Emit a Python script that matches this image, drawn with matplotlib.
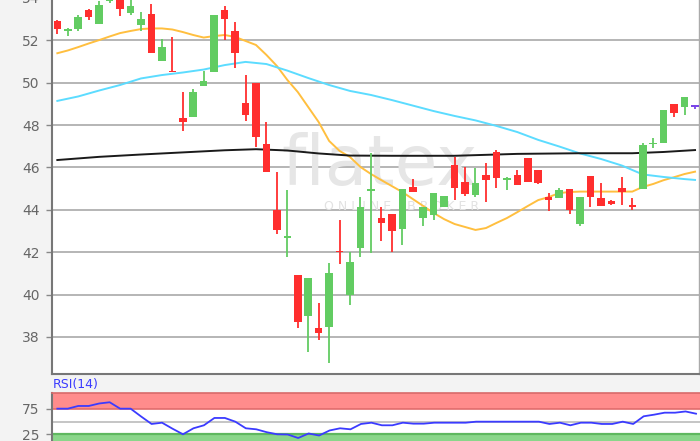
import matplotlib
matplotlib.use("Agg")
import matplotlib.pyplot as plt

# ---- data ----
opens = [52.92, 52.42, 52.52, 53.43, 52.77, 53.85, 54.25, 53.27, 52.71, 53.24,
         51.00, 50.57, 48.33, 48.37, 49.84, 50.50, 53.43, 52.45, 49.03, 49.97,
         47.11, 44.00, 42.65, 40.94, 38.99, 38.42, 38.46, 42.05, 40.00, 42.19,
         44.90, 43.62, 43.81, 43.11, 45.09, 43.60, 43.77, 44.15, 46.13, 45.33,
         44.69, 45.64, 46.74, 45.40, 45.64, 46.43, 45.88, 44.62, 44.54, 44.97,
         43.32, 45.60, 44.54, 44.42, 45.02, 44.23, 44.97, 47.10, 47.14, 49.00,
         48.87, 48.87]
highs = [52.95, 52.56, 53.18, 53.46, 53.84, 54.50, 54.50, 53.95, 53.33, 53.71,
         52.08, 52.14, 49.56, 49.69, 50.54, 53.18, 53.62, 52.86, 50.35, 49.97,
         48.15, 45.79, 44.94, 40.94, 40.76, 39.58, 41.48, 43.52, 42.01, 44.59,
         46.70, 44.12, 43.81, 44.97, 45.47, 44.12, 44.78, 44.66, 46.51, 46.04,
         45.96, 46.21, 46.82, 45.55, 45.88, 46.45, 45.88, 44.81, 45.04, 45.00,
         44.62, 45.60, 45.25, 44.45, 45.56, 44.54, 47.17, 47.38, 48.71, 49.00,
         49.31, 48.95]
lows = [52.30, 52.20, 52.45, 52.95, 52.77, 53.75, 53.14, 53.20, 52.42, 51.39,
        51.00, 50.50, 47.74, 48.37, 49.84, 50.50, 52.01, 50.69, 48.18, 46.98,
        45.79, 42.86, 41.79, 38.42, 37.27, 37.86, 36.79, 41.45, 39.50, 41.76,
        41.98, 42.55, 42.03, 42.33, 44.84, 43.24, 43.52, 44.15, 44.46, 44.65,
        44.59, 44.38, 45.02, 44.93, 45.17, 45.33, 45.20, 43.96, 44.54, 43.80,
        43.25, 44.15, 44.18, 44.23, 44.23, 43.99, 44.97, 46.90, 47.14, 48.37,
        48.48, 48.75]
closes = [52.52, 52.52, 53.11, 53.08, 53.68, 54.30, 53.46, 53.62, 52.99, 51.39,
          51.70, 50.50, 48.14, 49.56, 50.07, 53.18, 53.02, 51.39, 48.49, 47.42,
          45.79, 43.05, 42.75, 38.70, 40.76, 38.21, 41.01, 42.00, 41.54, 44.12,
          44.95, 43.37, 42.99, 44.97, 44.84, 44.12, 44.78, 44.66, 45.02, 44.75,
          45.25, 45.41, 45.49, 45.52, 45.17, 45.33, 45.25, 44.46, 44.94, 43.99,
          44.62, 44.62, 44.18, 44.27, 44.86, 44.12, 47.06, 47.16, 48.71, 48.56,
          49.31, 48.87]

ma_short = [51.39, 51.52, 51.68, 51.85, 52.01, 52.18, 52.34, 52.44, 52.53, 52.56,
            52.56, 52.51, 52.39, 52.25, 52.13, 52.20, 52.25, 52.16, 51.97, 51.78,
            51.31, 50.79, 50.13, 49.56, 48.85, 48.14, 47.25, 46.78, 46.49, 46.02,
            45.69, 45.40, 45.12, 44.84, 44.51, 44.18, 43.85, 43.56, 43.33, 43.19,
            43.05, 43.14, 43.38, 43.61, 43.89, 44.18, 44.46, 44.60, 44.79, 44.84,
            44.86, 44.86, 44.86, 44.86, 44.86, 44.86, 45.08, 45.22, 45.40, 45.54,
            45.69, 45.80]

ma_mid_idx = [0, 2, 4, 6, 8, 10, 12, 14, 16, 18, 20, 22, 24, 26, 28, 30, 32, 34,
              36, 38, 40, 42, 44, 46, 48, 50, 52, 54, 56, 58, 60, 61]
ma_mid = [49.14, 49.35, 49.63, 49.89, 50.20, 50.36, 50.48, 50.62, 50.83, 50.98,
          50.88, 50.57, 50.22, 49.89, 49.61, 49.42, 49.18, 48.92, 48.66, 48.43,
          48.22, 47.96, 47.67, 47.30, 46.99, 46.66, 46.40, 46.09, 45.67, 45.55,
          45.45, 45.41]

ma_long_idx = [0, 4, 8, 12, 16, 19, 22, 25, 28, 32, 38, 44, 50, 55, 58, 61]
ma_long = [46.35, 46.50, 46.61, 46.71, 46.81, 46.86, 46.80, 46.66, 46.56, 46.55,
           46.55, 46.64, 46.67, 46.67, 46.73, 46.82]

rsi = [75.6, 75.6, 80.9, 80.9, 85.8, 88.2, 75.6, 75.6, 60.2, 45.5,
       48.0, 36.2, 25.2, 37.0, 42.9, 57.3, 57.3, 50.0, 37.0, 35.0,
       29.3, 25.2, 24.8, 17.9, 26.8, 22.8, 32.7, 37.0, 35.0, 45.5,
       48.0, 42.9, 42.9, 48.0, 46.1, 46.1, 48.0, 48.0, 48.0, 48.0,
       50.0, 50.0, 50.0, 50.0, 50.0, 50.0, 50.0, 45.5, 48.0, 42.9,
       48.0, 48.0, 45.5, 45.5, 50.0, 45.5, 60.6, 63.8, 67.7, 67.7,
       70.1, 65.7]

price_ticks = [38, 40, 42, 44, 46, 48, 50, 52, 54]
rsi_ticks = [25, 75]

# ---- styling ----
RED = "#ff2e2e"
GREEN = "#62cc62"
FLAT = "#7a44e8"
GRID = "#a9a9a9"
LABEL = "#666666"

W, H = 700, 441
fig = plt.figure(figsize=(W / 100, H / 100), dpi=100, facecolor="#f3f3f3")

# main price axes (top slightly above the figure so the 54 label is cut)
top_px = -2.08
bot_px = 374
ax = fig.add_axes([52 / W, 1 - bot_px / H, (699 - 52) / W, (bot_px - top_px) / H])
ax.set_facecolor("white")
ax.set_ylim(36.252, 54.0)
ax.set_xlim(-0.51, 61.38)
ax.set_yticks(price_ticks)
ax.set_xticks([])
ax.yaxis.grid(True, color=GRID, lw=1.2)
ax.set_axisbelow(True)
ax.tick_params(axis="y", length=4, width=1, color="#888888", labelsize=10,
               labelcolor=LABEL, pad=5)
for s in ["top"]:
    ax.spines[s].set_visible(False)
ax.spines["left"].set_color("#777777")
ax.spines["left"].set_linewidth(1.5)
ax.spines["bottom"].set_color("#777777")
ax.spines["bottom"].set_linewidth(1.5)
ax.spines["right"].set_color("#aaaaaa")
ax.spines["right"].set_linewidth(1.0)

# watermark
ax.text(0.507, 0.555, "flatex", transform=ax.transAxes, ha="center", va="center",
        fontsize=50, color="#e6e6e6", zorder=0.6, family="DejaVu Sans")
ax.text(0.54, 0.445, "O N L I N E    B R O K E R", transform=ax.transAxes,
        ha="center", va="center", fontsize=9, color="#e2e2e2", zorder=0.6)

# moving averages
xs = list(range(len(closes)))
ax.plot(xs, ma_short, color="#ffbf3f", lw=1.4, zorder=2)
ax.plot(ma_mid_idx, ma_mid, color="#5cdcff", lw=1.4, zorder=2)
ax.plot(ma_long_idx, ma_long, color="#1a1a1a", lw=1.4, zorder=2)

# candles
colors = []
for o, c in zip(opens, closes):
    colors.append(GREEN if c > o else (RED if c < o else FLAT))
bottoms = [min(o, c) for o, c in zip(opens, closes)]
heights = [max(abs(c - o), 0.07) for o, c in zip(opens, closes)]
ax.vlines(xs, lows, highs, colors=colors, lw=1.3, zorder=3)
ax.bar(xs, heights, bottom=bottoms, width=0.72, color=colors, zorder=4,
       linewidth=0)

# RSI panel
rsi_top_px = 392.7
ax2 = fig.add_axes([52 / W, 0, (700 - 52) / W, (H - rsi_top_px) / H])
ax2.set_facecolor("white")
ax2.set_xlim(-0.51, 61.38)
ax2.set_ylim(12, 107)
ax2.axhspan(75, 107, color="#ff8c8c", lw=0, zorder=0.3)
ax2.axhspan(12, 25, color="#8ad68a", lw=0, zorder=0.3)
ax2.axhline(75, color="#e06c6c", lw=1.2, zorder=0.4)
ax2.axhline(25, color="#5fb85f", lw=1.6, zorder=0.4)
ax2.axhline(50, color="#bbbbbb", lw=1.2, zorder=0.4)
ax2.plot(xs, rsi, color="#3b3bff", lw=1.3, zorder=3)
ax2.set_yticks(rsi_ticks)
ax2.set_xticks([])
ax2.tick_params(axis="y", length=4, width=1, color="#888888", labelsize=10,
                labelcolor=LABEL, pad=5)
for s in ["bottom", "right"]:
    ax2.spines[s].set_visible(False)
ax2.spines["top"].set_color("#d86a6a")
ax2.spines["top"].set_linewidth(1.2)
ax2.spines["left"].set_color("#777777")
ax2.spines["left"].set_linewidth(1.5)

fig.text(53 / W, 1 - 384.5 / H, "RSI(14)", color="#3b3bff", fontsize=9,
         ha="left", va="center")

fig.savefig("out.png", dpi=100, facecolor=fig.get_facecolor())
